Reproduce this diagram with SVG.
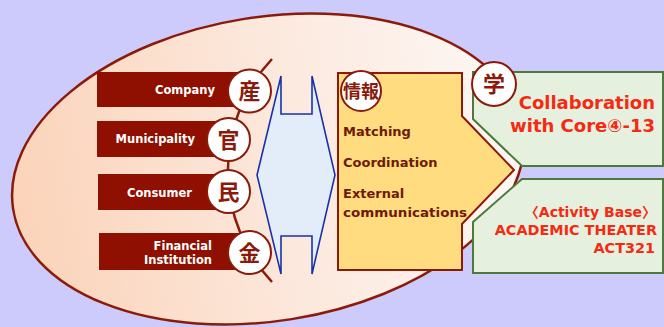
<svg xmlns="http://www.w3.org/2000/svg" width="664" height="327" viewBox="0 0 664 327">
  <defs>
    <linearGradient id="eggFill" x1="0" y1="0" x2="1" y2="0">
      <stop offset="0" stop-color="#fbd3b9"/>
      <stop offset="0.55" stop-color="#fce9de"/>
      <stop offset="1" stop-color="#fdf7f4"/>
    </linearGradient>
    <style>
      .bar { fill: #8f1000; }
      .barText { font-family: "DejaVu Sans", "Noto Sans CJK JP", sans-serif; font-weight: bold; font-size: 11.5px; fill: #ffffff; text-anchor: end; }
      .badge { fill: #ffffff; stroke: #8b1a0a; stroke-width: 2; }
      .kanji { font-family: "Noto Sans CJK JP", sans-serif; font-weight: bold; font-size: 22px; fill: #8b1a0a; text-anchor: middle; }
      .infoText { font-family: "DejaVu Sans", "Noto Sans CJK JP", sans-serif; font-weight: bold; font-size: 13px; fill: #6e1a08; }
      .greenBox { fill: #e5f0de; stroke: #4d7a3c; stroke-width: 2; }
      .redText { font-family: "DejaVu Sans", "Noto Sans CJK JP", sans-serif; font-weight: bold; fill: #f52a12; text-anchor: end; }
    </style>
  </defs>

  <rect x="0" y="0" width="664" height="327" fill="#cccbfc"/>

  <ellipse id="egg" cx="268" cy="169" rx="258" ry="152" transform="rotate(-9 268 169)" fill="url(#eggFill)" stroke="#8b1a0a" stroke-width="2.5"/>

  <g id="connectors">
    <path d="M272,59 A163,163 0 0 0 272,282" fill="none" stroke="#8b1a0a" stroke-width="2.5"/>
  </g>

  <g id="company">
    <rect class="bar" x="97" y="72" width="152" height="35"/>
    <text class="barText" x="215" y="94">Company</text>
    <circle class="badge" cx="249.5" cy="91" r="21.5"/>
    <text class="kanji" x="249.5" y="99">産</text>
  </g>

  <g id="municipality">
    <rect class="bar" x="97" y="121" width="131" height="36"/>
    <text class="barText" x="195" y="143">Municipality</text>
    <circle class="badge" cx="228.5" cy="139.5" r="21.5"/>
    <text class="kanji" x="228.5" y="147.5">官</text>
  </g>

  <g id="consumer">
    <rect class="bar" x="98" y="174" width="130" height="36"/>
    <text class="barText" x="192" y="197">Consumer</text>
    <circle class="badge" cx="228.5" cy="191.5" r="21.5"/>
    <text class="kanji" x="228.5" y="199.5">民</text>
  </g>

  <g id="financial">
    <rect class="bar" x="99" y="233" width="150" height="37"/>
    <text class="barText" x="212" y="250">Financial</text>
    <text class="barText" x="212" y="264">Institution</text>
    <circle class="badge" cx="249.5" cy="252.5" r="21.5"/>
    <text class="kanji" x="249.5" y="260.5">金</text>
  </g>

  <g id="exchange">
    <polygon points="257,175 281,76 281,114 312,114 312,76 335,175 312,274 312,236 281,236 281,274" fill="#e2edf9" stroke="#1a32a8" stroke-width="1.6" stroke-linejoin="miter"/>
  </g>

  <g id="info">
    <polygon points="338,73 462,73 462,116 514,170 462,224 462,270 338,270" fill="#ffdc80" stroke="#8b1a0a" stroke-width="2"/>
    <circle class="badge" cx="361" cy="91" r="20"/>
    <text class="kanji" x="361" y="98" style="font-size:18px">情報</text>
    <text class="infoText" x="343" y="136">Matching</text>
    <text class="infoText" x="343" y="167">Coordination</text>
    <text class="infoText" x="343" y="198">External</text>
    <text class="infoText" x="343" y="217" textLength="124" lengthAdjust="spacingAndGlyphs">communications</text>
  </g>

  <g id="collaboration">
    <polygon class="greenBox" points="473,72 663,72 663,166 522,166 473,119"/>
    <circle class="badge" cx="494" cy="84" r="22"/>
    <text class="kanji" x="494" y="92">学</text>
    <text class="redText" x="655" y="109" style="font-size:18px">Collaboration</text>
    <text class="redText" x="655" y="132" style="font-size:18px">with Core④-13</text>
  </g>

  <g id="activityBase">
    <polygon class="greenBox" points="522,179 663,179 663,273 473,273 473,222"/>
    <text class="redText" x="656" y="217" style="font-size:14px">〈Activity Base〉</text>
    <text class="redText" x="657" y="235" style="font-size:14.4px">ACADEMIC THEATER</text>
    <text class="redText" x="655" y="253" style="font-size:14.4px">ACT321</text>
  </g>
</svg>
